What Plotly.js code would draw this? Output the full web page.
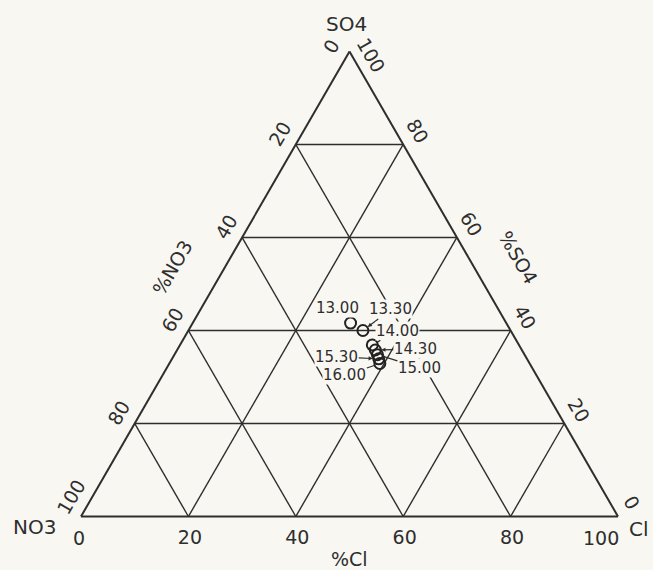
<!DOCTYPE html>
<html>
<head>
<meta charset="utf-8">
<script src="https://cdn.plot.ly/plotly-3.0.1.min.js"></script>
<style>html,body{margin:0;padding:0;background:#f8f7f2;}</style>
</head>
<body>
<div id="chart" style="width:653px;height:570px;"></div>
<script>
// ---- data (percent of SO4 / NO3 / Cl) ----
const times = ['13.00', '13.30', '14.00', '14.30', '15.00', '15.30', '16.00'];
const so4 = [41.6, 40.0, 36.9, 35.8, 34.8, 33.9, 32.9];
const no3 = [29.0, 27.5, 27.3, 27.3, 27.4, 27.6, 27.9];
const cl  = [29.4, 32.5, 35.8, 36.9, 37.8, 38.5, 39.2];

// grid / tick values along each edge; each edge is labelled with the complementary component
const tickVals = [20, 40, 60, 80];
const tickText = ['80', '60', '40', '20'];

// ---- layout constants ----
const W = 653, H = 570;
const FONT = 'DejaVu Sans, Arial, sans-serif';
const INK = '#2e2e2e';
const BG = '#f8f7f2';
const domX = [81 / W, 618 / W];
const domY = [0.0718, 0.9318];

// geometry of the ternary triangle (mirrors plotly's ternary fitting)
const triW = (domX[1] - domX[0]) * W;
const triH = triW * Math.sqrt(3) / 2;
const triLeft = domX[0] * W;
const triBottom = H * (1 - (domY[0] + domY[1]) / 2) + triH / 2;
function toPaper(a, b, c) {
  const s = a + b + c;
  const px = triLeft + triW * (c / s) + triW / 2 * (a / s);
  const py = triBottom - triH * (a / s);
  return [px / W, 1 - py / H];
}

// label placement (pixel offsets of label centre from its point) and arrow style
const labelDX = [-13, 28, 25, 40, 42, -42, -35];
const labelDY = [-15, -21, -14, -1, 13, -2, 12];
const labelArrow = [-1, 2, 0, 2, 0, 2, 0]; // -1 none, 0 plain line, >0 arrowhead

const axisCommon = {
  tickvals: tickVals,
  ticktext: tickText,
  ticks: 'outside',
  ticklen: 3,
  tickcolor: 'rgba(0,0,0,0)',
  tickfont: {family: FONT, size: 19, color: INK},
  showline: true,
  linecolor: INK,
  linewidth: 2,
  showgrid: true,
  gridcolor: INK,
  gridwidth: 1.4,
  title: {text: ''}
};

const trace = {
  type: 'scatterternary',
  mode: 'markers',
  a: so4, b: no3, c: cl,
  text: times,
  hoverinfo: 'text+a+b+c',
  marker: {symbol: 'circle-open', size: 11, color: '#222', line: {width: 2, color: '#222'}},
  showlegend: false
};

const annotations = [];
times.forEach((t, i) => {
  const p = toPaper(so4[i], no3[i], cl[i]);
  const hasArrow = labelArrow[i] >= 0;
  annotations.push({
    xref: 'paper', yref: 'paper', x: p[0], y: p[1],
    text: t, showarrow: true,
    ax: labelDX[i], ay: labelDY[i],
    arrowcolor: hasArrow ? INK : 'rgba(0,0,0,0)',
    arrowwidth: 1.2,
    arrowhead: labelArrow[i] > 0 ? labelArrow[i] : 0,
    arrowsize: 0.7,
    standoff: 6,
    bgcolor: BG, borderpad: 0,
    font: {family: FONT, size: 15, color: INK}
  });
});

function txt(text, px, py, size, angle) {
  return {xref: 'paper', yref: 'paper', x: px / W, y: 1 - py / H,
    xanchor: 'center', yanchor: 'middle', showarrow: false,
    text: text, textangle: angle || 0,
    font: {family: FONT, size: size, color: INK}};
}
// vertex names, edge titles and corner values
annotations.push(
  txt('SO4', 346, 24, 20),
  txt('NO3', 34, 527, 20),
  txt('Cl', 639, 529, 20),
  txt('%NO3', 172, 268, 19, -60),
  txt('%SO4', 518, 257, 19, 60),
  txt('%Cl', 349, 559, 19),
  txt('0', 330.5, 46.5, 19, -60),
  txt('100', 371, 55, 19, 60),
  txt('100', 71, 497, 19, -60),
  txt('0', 79, 538, 19),
  txt('100', 601, 538, 19),
  txt('0', 631.5, 502, 19, 60)
);

const layout = {
  width: W, height: H,
  margin: {l: 0, r: 0, t: 0, b: 0},
  paper_bgcolor: BG,
  plot_bgcolor: BG,
  showlegend: false,
  ternary: {
    sum: 100,
    domain: {x: domX, y: domY},
    bgcolor: BG,
    aaxis: Object.assign({}, axisCommon, {tickangle: -60}),
    baxis: Object.assign({}, axisCommon, {tickangle: 0}),
    caxis: Object.assign({}, axisCommon, {tickangle: 60})
  },
  annotations: annotations
};

Plotly.newPlot('chart', [trace], layout, {displayModeBar: false, staticPlot: true});
</script>
</body>
</html>
